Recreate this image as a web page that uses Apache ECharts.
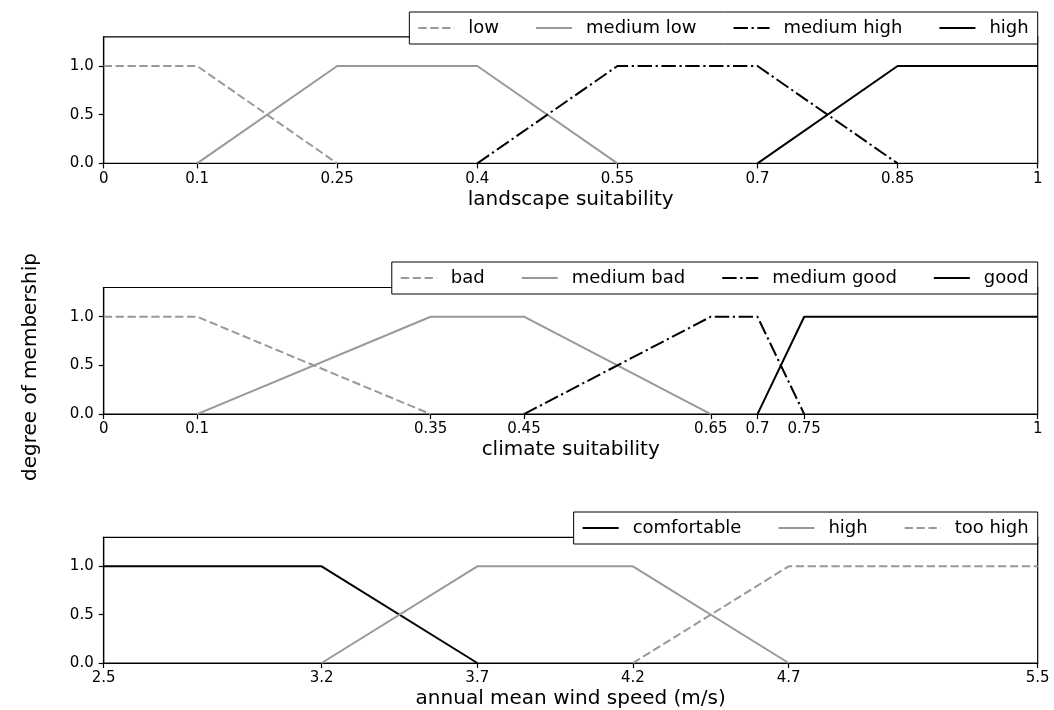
<!DOCTYPE html>
<html>
<head>
<meta charset="utf-8">
<script src="https://cdn.jsdelivr.net/npm/echarts@6/dist/echarts.min.js"></script>
<style>
html,body{margin:0;padding:0;background:#fff;}
#c{width:1054px;height:710px;}
</style>
</head>
<body>
<div id="c"></div>
<script>
// ---- data ----
const landscapeTicks = [0, 0.1, 0.25, 0.4, 0.55, 0.7, 0.85, 1];
const climateTicks = [0, 0.1, 0.35, 0.45, 0.65, 0.7, 0.75, 1];
const windTicks = [2.5, 3.2, 3.7, 4.2, 4.7, 5.5];
const yTicks = [0, 0.5, 1];

const landscapeLow = [[0, 1], [0.1, 1], [0.25, 0]];
const landscapeMediumLow = [[0.1, 0], [0.25, 1], [0.4, 1], [0.55, 0]];
const landscapeMediumHigh = [[0.4, 0], [0.55, 1], [0.7, 1], [0.85, 0]];
const landscapeHigh = [[0.7, 0], [0.85, 1], [1, 1]];

const climateBad = [[0, 1], [0.1, 1], [0.35, 0]];
const climateMediumBad = [[0.1, 0], [0.35, 1], [0.45, 1], [0.65, 0]];
const climateMediumGood = [[0.45, 0], [0.65, 1], [0.7, 1], [0.75, 0]];
const climateGood = [[0.7, 0], [0.75, 1], [1, 1]];

const windComfortable = [[2.5, 1], [3.2, 1], [3.7, 0]];
const windHigh = [[3.2, 0], [3.7, 1], [4.2, 1], [4.7, 0]];
const windTooHigh = [[4.2, 0], [4.7, 1], [5.5, 1]];

const xTitles = ['landscape suitability', 'climate suitability', 'annual mean wind speed (m/s)'];
const yTitle = 'degree of membership';

// ---- styles ----
const FONT = 'DejaVu Sans';
const GRAY = '#999999';
const BLACK = '#000000';
const LW = 2;
const DASH = [8.3, 3.6];
const DASHDOT = [14.4, 3.6, 2.25, 3.6];
const styles = {
  dashedGray: {color: GRAY, width: LW, type: DASH},
  solidGray: {color: GRAY, width: LW, type: 'solid'},
  dashDotBlack: {color: BLACK, width: LW, type: DASHDOT},
  solidBlack: {color: BLACK, width: LW, type: 'solid'}
};

const panels = [
  {ticks: landscapeTicks, min: 0, max: 1, top: 36.8, legendTop: 12, series: [
    {key: 'l_low', label: 'low', data: landscapeLow, st: 'dashedGray'},
    {key: 'l_ml', label: 'medium low', data: landscapeMediumLow, st: 'solidGray'},
    {key: 'l_mh', label: 'medium high', data: landscapeMediumHigh, st: 'dashDotBlack'},
    {key: 'l_h', label: 'high', data: landscapeHigh, st: 'solidBlack'}
  ]},
  {ticks: climateTicks, min: 0, max: 1, top: 287.5, legendTop: 262, series: [
    {key: 'c_b', label: 'bad', data: climateBad, st: 'dashedGray'},
    {key: 'c_mb', label: 'medium bad', data: climateMediumBad, st: 'solidGray'},
    {key: 'c_mg', label: 'medium good', data: climateMediumGood, st: 'dashDotBlack'},
    {key: 'c_g', label: 'good', data: climateGood, st: 'solidBlack'}
  ]},
  {ticks: windTicks, min: 2.5, max: 5.5, top: 537.3, legendTop: 512, series: [
    {key: 'w_c', label: 'comfortable', data: windComfortable, st: 'solidBlack'},
    {key: 'w_h', label: 'high', data: windHigh, st: 'solidGray'},
    {key: 'w_th', label: 'too high', data: windTooHigh, st: 'dashedGray'}
  ]}
];

const labelMap = {};
panels.forEach(p => p.series.forEach(s => { labelMap[s.key] = s.label; }));

const grid = [], xAxis = [], yAxis = [], series = [], legend = [];
panels.forEach((p, i) => {
  grid.push({left: 103.7, right: 16.3, top: p.top, height: 126.6, show: true,
    borderColor: BLACK, borderWidth: 1.2, backgroundColor: 'transparent', containLabel: false});
  xAxis.push({
    type: 'value', gridIndex: i, min: p.min, max: p.max,
    name: xTitles[i], nameLocation: 'middle', nameGap: 26,
    nameTextStyle: {fontFamily: FONT, fontSize: 20, color: BLACK},
    axisLine: {show: true, onZero: false, lineStyle: {color: BLACK, width: 1.2}},
    axisTick: {show: true, inside: false, length: 5, customValues: p.ticks, lineStyle: {color: BLACK, width: 1.2}},
    axisLabel: {show: true, customValues: p.ticks, margin: 8, fontFamily: FONT, fontSize: 15, color: BLACK,
      showMinLabel: true, showMaxLabel: true, hideOverlap: false},
    splitLine: {show: false}
  });
  yAxis.push({
    type: 'value', gridIndex: i, min: 0, max: 1.3,
    axisLine: {show: true, onZero: false, lineStyle: {color: BLACK, width: 1.2}},
    axisTick: {show: true, inside: false, length: 5, customValues: yTicks, lineStyle: {color: BLACK, width: 1.2}},
    axisLabel: {show: true, customValues: yTicks, margin: 10, fontFamily: FONT, fontSize: 15, color: BLACK,
      formatter: v => Number(v).toFixed(1)},
    splitLine: {show: false}
  });
  p.series.forEach(s => {
    series.push({
      type: 'line', name: s.key, xAxisIndex: i, yAxisIndex: i, data: s.data,
      symbol: 'none', showSymbol: false, animation: false, silent: true,
      lineStyle: styles[s.st], itemStyle: {color: styles[s.st].color},
      z: 3
    });
  });
  legend.push({
    data: p.series.map(s => s.key),
    formatter: name => labelMap[name],
    right: 16.3, top: p.legendTop, orient: 'horizontal',
    itemWidth: 36, itemHeight: 18, itemGap: 36,
    padding: [7, 9, 7, 8],
    borderColor: BLACK, borderWidth: 1, borderRadius: 0,
    backgroundColor: '#ffffff', selectedMode: false,
    itemStyle: {color: 'rgba(0,0,0,0)', borderWidth: 0, opacity: 0},
    textStyle: {fontFamily: FONT, fontSize: 18, color: BLACK, lineHeight: 18, padding: [0, 0, 0, 9]},
    z: 10
  });
});

const chart = echarts.init(document.getElementById('c'), null, {renderer: 'canvas'});
chart.setOption({
  animation: false,
  backgroundColor: '#ffffff',
  textStyle: {fontFamily: FONT},
  grid, xAxis, yAxis, series, legend,
  graphic: [{
    type: 'text', x: 31, y: 367, rotation: Math.PI / 2,
    style: {text: yTitle, fontFamily: FONT, fontSize: 20, fill: BLACK, align: 'center', verticalAlign: 'middle'}
  }]
});
</script>
</body>
</html>
